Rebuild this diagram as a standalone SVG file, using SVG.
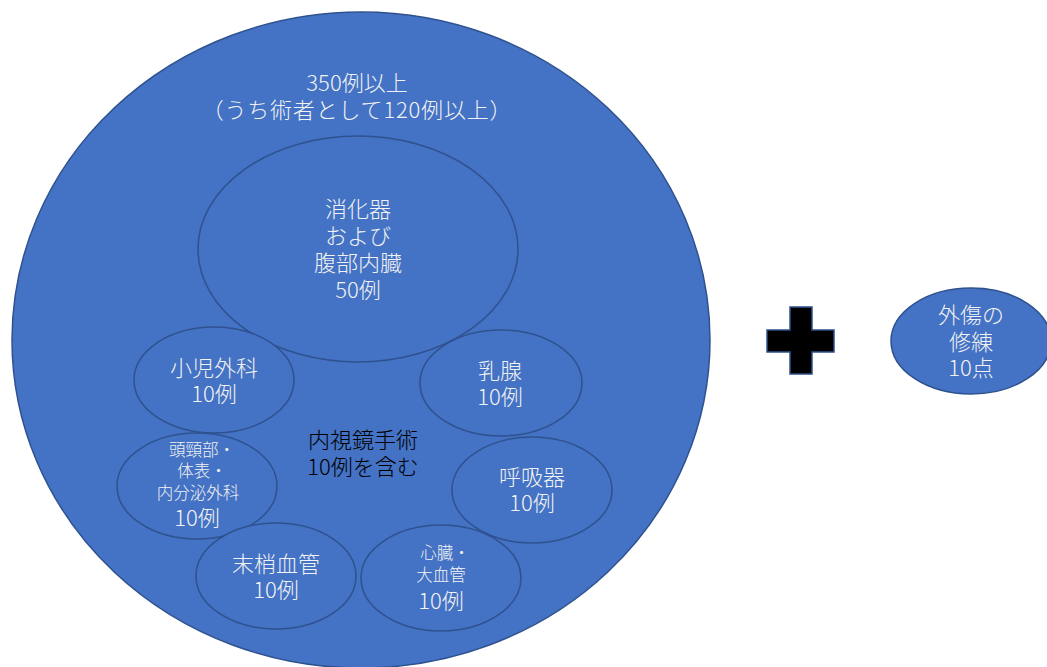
<svg xmlns="http://www.w3.org/2000/svg" width="1047" height="667" viewBox="0 0 1047 667">
<style>
.c{fill:#4472C4;stroke:#2F528F;stroke-width:1.5}
.t{font-family:"Noto Sans CJK JP","Noto Sans",sans-serif;font-weight:300;fill:#F2F2F2;text-anchor:middle;dominant-baseline:central;font-size:22px}
.s{font-size:16.5px}
.k{fill:#000}
</style>
<rect width="1047" height="667" fill="#fff"/>
<g id="outer">
<ellipse class="c" cx="361" cy="340" rx="349" ry="328"/>
<text class="t" x="357" y="81">350例以上</text>
<text class="t" x="357" y="108" letter-spacing="0.8">（うち術者として120例以上）</text>
</g>
<g id="digestive">
<ellipse class="c" cx="358" cy="249" rx="160" ry="113"/>
<text class="t" x="358" y="207">消化器</text>
<text class="t" x="358" y="234">および</text>
<text class="t" x="358" y="261">腹部内臓</text>
<text class="t" x="358" y="288">50例</text>
</g>
<g id="pediatric">
<ellipse class="c" cx="214" cy="380" rx="80" ry="53"/>
<text class="t" x="214" y="366">小児外科</text>
<text class="t" x="214" y="392">10例</text>
</g>
<g id="breast">
<ellipse class="c" cx="501" cy="383" rx="81" ry="53"/>
<text class="t" x="500" y="369">乳腺</text>
<text class="t" x="500" y="395">10例</text>
</g>
<g id="headneck">
<ellipse class="c" cx="197" cy="486" rx="80" ry="53"/>
<text class="t s" x="202" y="449">頭頸部・</text>
<text class="t s" x="202" y="470">体表・</text>
<text class="t s" x="198" y="492">内分泌外科</text>
<text class="t" x="197" y="516">10例</text>
</g>
<g id="endoscopy">
<text class="t k" x="363" y="438">内視鏡手術</text>
<text class="t k" x="363" y="465">10例を含む</text>
</g>
<g id="respiratory">
<ellipse class="c" cx="532" cy="490" rx="80" ry="53"/>
<text class="t" x="532" y="475">呼吸器</text>
<text class="t" x="532" y="501">10例</text>
</g>
<g id="peripheral">
<ellipse class="c" cx="276" cy="576" rx="80" ry="53"/>
<text class="t" x="276" y="562">末梢血管</text>
<text class="t" x="276" y="588">10例</text>
</g>
<g id="cardio">
<ellipse class="c" cx="441" cy="578" rx="80" ry="53"/>
<text class="t s" x="445" y="552">心臓・</text>
<text class="t s" x="441" y="574">大血管</text>
<text class="t" x="441" y="599">10例</text>
</g>
<g id="plus">
<path d="M790 307H812V330H834V352H812V374H790V352H767V330H790Z" fill="#000" stroke="#2F528F" stroke-width="1.5"/>
</g>
<g id="trauma">
<ellipse class="c" cx="971" cy="341" rx="80" ry="53"/>
<text class="t" x="971" y="313">外傷の</text>
<text class="t" x="971" y="340">修練</text>
<text class="t" x="971" y="366">10点</text>
</g>
<g id="connectors"></g>
</svg>
